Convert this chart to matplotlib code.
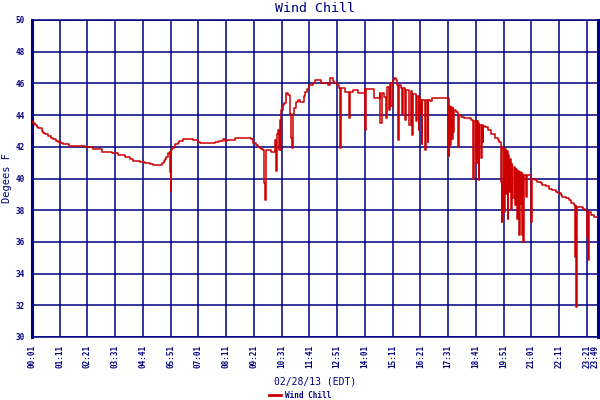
import matplotlib
matplotlib.use("Agg")
import matplotlib.pyplot as plt
from matplotlib.lines import Line2D
from matplotlib.transforms import ScaledTranslation

# minutes after midnight (02/28/13, EDT)
minutes = [
    1, 2, 8, 13, 17, 25, 29, 35, 42, 49, 55, 61, 67, 73, 80, 95, 129, 134, 155, 177,
    202, 218, 235, 248, 256, 273, 286, 298, 303, 306, 328, 330, 334, 336, 340, 344, 348,
    350, 351, 352, 354, 358, 362, 369, 373, 382, 403, 407, 420, 424, 457, 462, 474, 483,
    487, 492, 512, 546, 554, 558, 565, 571, 575, 580, 585, 587, 590, 592, 600, 605, 609,
    613, 616, 619, 621, 624, 626, 628, 630, 634, 638, 643, 647, 651, 653, 655, 657, 659,
    663, 668, 672, 676, 684, 687, 691, 695, 700, 710, 716, 731, 747, 752, 760, 764, 770,
    775, 779, 781, 790, 800, 801, 803, 806, 810, 823, 832, 840, 842, 844, 861, 865, 878,
    880, 883, 890, 893, 896, 901, 903, 905, 907, 911, 915, 920, 922, 924, 926, 932, 935,
    937, 943, 945, 953, 956, 960, 962, 970, 972, 977, 978, 981, 983, 984, 986, 993, 995,
    999, 1001, 1004, 1010, 1046, 1050, 1052, 1054, 1056, 1058, 1060, 1062, 1064, 1066,
    1071, 1075, 1077, 1079, 1083, 1092, 1104, 1109, 1113, 1114, 1117, 1120, 1121, 1123,
    1124, 1125, 1127, 1128, 1130, 1134, 1136, 1138, 1140, 1143, 1151, 1159, 1168, 1176,
    1180, 1184, 1187, 1188, 1190, 1193, 1195, 1197, 1199, 1201, 1203, 1205, 1208, 1209,
    1211, 1213, 1216, 1220, 1222, 1224, 1227, 1230, 1232, 1234, 1236, 1238, 1240, 1241,
    1242, 1247, 1249, 1250, 1259, 1261, 1263, 1271, 1275, 1284, 1288, 1297, 1306, 1314,
    1323, 1327, 1335, 1339, 1348, 1356, 1361, 1369, 1371, 1373, 1374, 1377, 1390, 1397,
    1401, 1402, 1404, 1405, 1407, 1411, 1420, 1429,
]

wind_chill = [
    43.6, 43.5, 43.4, 43.27, 43.17, 43.0, 42.9, 42.8, 42.7, 42.55, 42.47, 42.37, 42.28,
    42.22, 42.15, 42.08, 42.05, 42.0, 41.84, 41.7, 41.6, 41.46, 41.33, 41.2, 41.12, 41.02,
    40.96, 40.9, 40.9, 40.85, 40.85, 41.0, 41.1, 41.2, 41.37, 41.6, 41.65, 40.4, 39.2,
    41.8, 41.9, 42.0, 42.17, 42.25, 42.37, 42.47, 42.47, 42.4, 42.28, 42.22, 42.22, 42.3,
    42.38, 42.5, 42.38, 42.45, 42.55, 42.55, 42.47, 42.22, 42.1, 42.0, 41.9, 41.84, 41.8,
    39.7, 38.64, 41.8, 41.8, 41.7, 41.7, 42.43, 40.5, 42.8, 43.06, 41.8, 43.7, 41.8, 44.3,
    44.64, 44.75, 45.37, 45.27, 45.16, 44.1, 42.53, 41.9, 44.1, 44.43, 44.8, 44.95, 44.8,
    44.85, 45.2, 45.48, 45.63, 45.9, 46.0, 46.2, 46.05, 45.9, 46.32, 46.17, 46.0, 45.9,
    45.7, 41.9, 45.7, 45.48, 45.48, 43.8, 45.48, 45.48, 45.58, 45.4, 45.37, 45.63, 43.06,
    45.63, 45.63, 45.06, 45.37, 43.5, 45.37, 45.16, 43.8, 45.8, 44.3, 45.9, 46.0, 44.6,
    46.2, 46.32, 46.2, 45.9, 42.4, 45.9, 45.7, 44.1, 45.7, 43.7, 45.6, 43.4, 45.5, 42.74,
    45.3, 43.6, 45.2, 43.06, 45.16, 44.1, 44.95, 42.2, 44.95, 41.8, 44.95, 42.3, 44.95,
    44.9, 45.06, 45.06, 45.06, 41.4, 44.6, 42.1, 44.5, 42.5, 44.43, 42.95, 44.32, 44.2,
    44.1, 41.98, 44.0, 43.9, 43.83, 43.8, 43.7, 43.63, 40.0, 43.6, 41.9, 43.6, 40.96,
    43.6, 41.5, 43.5, 39.9, 43.37, 41.3, 43.37, 42.33, 43.3, 43.27, 43.06, 42.8, 42.58,
    42.43, 42.33, 39.8, 37.27, 42.0, 41.9, 37.9, 41.85, 39.0, 41.75, 37.47, 41.5, 39.17,
    41.2, 38.1, 40.9, 38.75, 40.7, 38.3, 40.6, 37.47, 40.5, 36.43, 40.4, 38.4, 40.33,
    36.43, 40.25, 36.0, 40.2, 38.85, 40.2, 40.2, 40.1, 37.27, 40.0, 39.9, 39.8, 39.7, 39.6,
    39.5, 39.32, 39.27, 39.17, 39.06, 38.95, 38.85, 38.75, 38.64, 38.47, 38.33, 35.06,
    38.25, 31.9, 38.2, 38.1, 38.0, 37.9, 36.3, 37.9, 34.85, 37.9, 37.7, 37.6, 37.5,
]

tick_minutes = [1, 71, 141, 211, 281, 351, 421, 491, 561, 631, 701, 771, 841, 911,
                981, 1051, 1121, 1191, 1261, 1331, 1401, 1429]
tick_labels = ["00:01", "01:11", "02:21", "03:31", "04:41", "05:51", "07:01", "08:11",
               "09:21", "10:31", "11:41", "12:51", "14:01", "15:11", "16:21", "17:31",
               "18:41", "19:51", "21:01", "22:11", "23:21", "23:49"]
y_ticks = [30, 32, 34, 36, 38, 40, 42, 44, 46, 48, 50]

NAVY = "#000080"
RED = "#CC0000"
MONO = "DejaVu Sans Mono"

fig = plt.figure(figsize=(6, 4), dpi=100)
ax = fig.add_axes([32 / 600, 63 / 400, 566 / 600, 317 / 400])

ax.plot(minutes, wind_chill, color=RED, lw=1.1, zorder=3, drawstyle="steps-post")

ax.set_xlim(1, 1429)
ax.set_ylim(30, 50)
ax.set_yticks(y_ticks)
ax.set_yticklabels([str(v) for v in y_ticks], fontsize=5.5, fontweight="bold",
                   color=NAVY, family=MONO)
ax.set_xticks(tick_minutes)
ax.set_xticklabels(tick_labels, rotation=90, fontsize=5.5, fontweight="bold",
                   color=NAVY, family=MONO)
ax.tick_params(length=0, pad=6)
ax.tick_params(axis="y", pad=5)

# keep the last label inside the figure
last = ax.get_xticklabels()[-1]
last.set_transform(last.get_transform() + ScaledTranslation(-3 / 100, 0, fig.dpi_scale_trans))

for m in tick_minutes[:-1]:
    ax.axvline(m, color=NAVY, lw=1.1, zorder=1)
for v in y_ticks:
    ax.axhline(v, color=NAVY, lw=1.1, zorder=1)

for side in ["left", "right"]:
    ax.spines[side].set_color(NAVY)
    ax.spines[side].set_linewidth(2.2)
for side in ["top", "bottom"]:
    ax.spines[side].set_color(NAVY)
    ax.spines[side].set_linewidth(1.1)

fig.text(315 / 600, 1 - 8 / 400, "Wind Chill", ha="center", va="center",
         fontsize=9.5, color=NAVY, family=MONO)
fig.text(7 / 600, 1 - 178 / 400, "Degees F", ha="center", va="center",
         rotation=90, fontsize=7.5, color=NAVY, family=MONO)
fig.text(315 / 600, 1 - 381 / 400, "02/28/13 (EDT)", ha="center", va="center",
         fontsize=7, color=NAVY, family=MONO)

handle = Line2D([], [], color=RED, lw=2)
fig.legend([handle], ["Wind Chill"], loc="center", bbox_to_anchor=(300 / 600, 1 - 395 / 400),
           frameon=False, prop={"family": MONO, "size": 5.5, "weight": "bold"},
           handlelength=1.6, handletextpad=0.4, labelcolor=NAVY, borderpad=0)

fig.savefig("out.png", dpi=100)
